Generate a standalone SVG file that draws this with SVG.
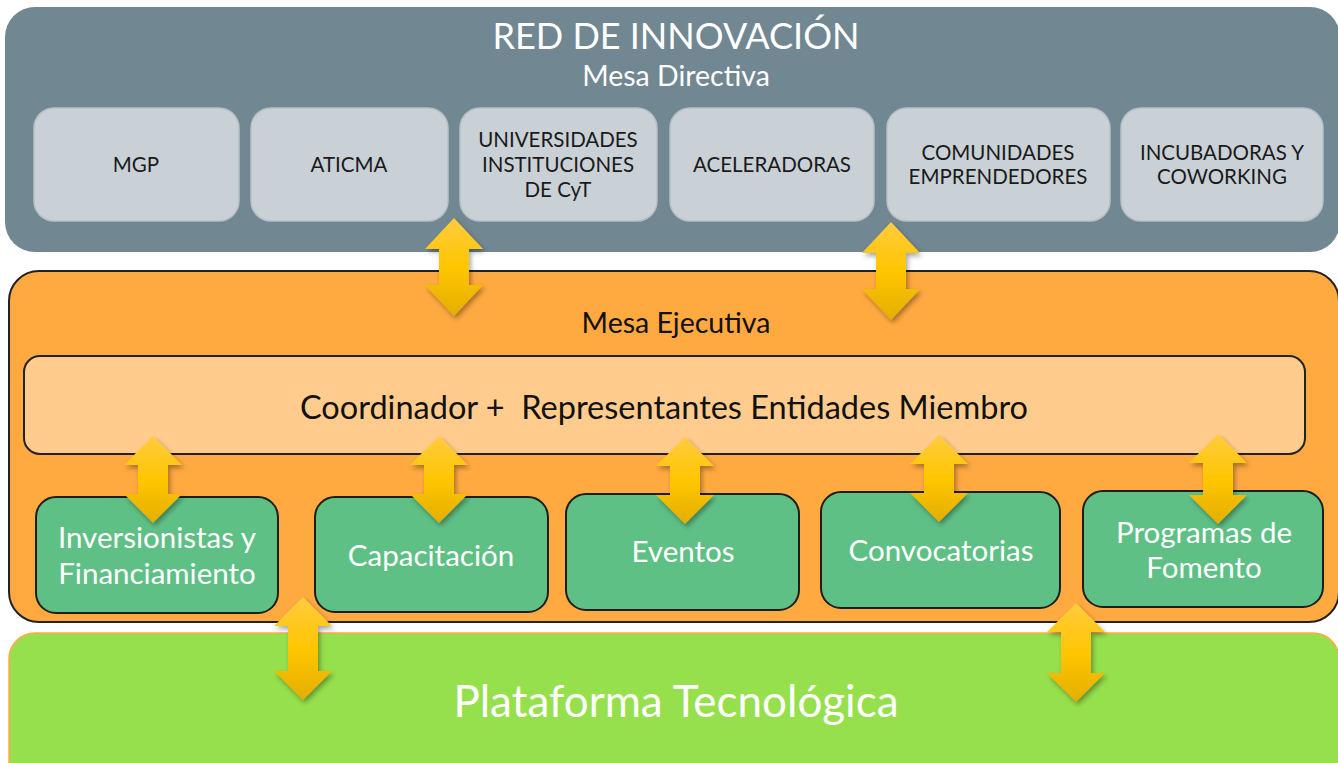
<svg xmlns="http://www.w3.org/2000/svg" width="1338" height="763" viewBox="0 0 1338 763">
<defs>
<style>
.t{font-family:Lato,"Open Sans","Liberation Sans",sans-serif;text-anchor:middle}
.top{fill:#C9D1D7;stroke:#B7C0C6;stroke-width:1.5}
.tt{font-size:20.5px;fill:#1a1a1a}
.grn{fill:#5FC086;stroke:#1e1e1e;stroke-width:2}
.gt{font-size:29.5px;fill:#ffffff}
.arr{fill:url(#ag);filter:url(#sh)}
</style>
<linearGradient id="ag" x1="0" y1="0" x2="0" y2="1">
<stop offset="0" stop-color="#FFCB3F"/>
<stop offset="0.5" stop-color="#FFC600"/>
<stop offset="1" stop-color="#E3AE00"/>
</linearGradient>
<filter id="sh" x="-30%" y="-20%" width="160%" height="140%">
<feDropShadow dx="2" dy="3" stdDeviation="2.5" flood-color="#000" flood-opacity="0.35"/>
</filter>
</defs>
<rect x="0" y="0" width="1338" height="763" fill="#ffffff"/>

<g id="red-innovacion">
<rect x="5" y="7" width="1335" height="245" rx="30" fill="#718792"/>
<text class="t" x="676" y="49" font-size="36" fill="#ffffff">RED DE INNOVACIÓN</text>
<text class="t" x="676" y="86" font-size="28.5" fill="#ffffff">Mesa Directiva</text>
</g>
<g id="mgp"><rect class="top" x="34" y="108" width="205" height="113" rx="20"/><text class="t tt" x="136" y="172">MGP</text></g>
<g id="aticma"><rect class="top" x="251" y="108" width="197" height="113" rx="20"/><text class="t tt" x="349" y="172">ATICMA</text></g>
<g id="universidades"><rect class="top" x="460" y="108" width="197" height="113" rx="20"/><text class="t tt" x="558" y="147">UNIVERSIDADES</text><text class="t tt" x="558" y="172">INSTITUCIONES</text><text class="t tt" x="558" y="197">DE CyT</text></g>
<g id="aceleradoras"><rect class="top" x="670" y="108" width="204" height="113" rx="20"/><text class="t tt" x="772" y="172">ACELERADORAS</text></g>
<g id="comunidades"><rect class="top" x="887" y="108" width="223" height="113" rx="20"/><text class="t tt" x="998" y="160">COMUNIDADES</text><text class="t tt" x="998" y="184">EMPRENDEDORES</text></g>
<g id="incubadoras"><rect class="top" x="1121" y="108" width="202" height="113" rx="20"/><text class="t tt" x="1222" y="160">INCUBADORAS Y</text><text class="t tt" x="1222" y="184">COWORKING</text></g>

<g id="mesa-ejecutiva">
<rect x="9" y="271" width="1330" height="351" rx="30" fill="#FFA941" stroke="#222" stroke-width="2"/>
<text class="t" x="676" y="333" font-size="28.5" fill="#111">Mesa Ejecutiva</text>
</g>
<g id="coordinador">
<rect x="24" y="356" width="1281" height="98" rx="16" fill="#FFCC8D" stroke="#222" stroke-width="2"/>
<text class="t" x="664" y="419" font-size="32.5" fill="#111" style="white-space:pre">Coordinador +  Representantes Entidades Miembro</text>
</g>
<g id="inversionistas"><rect class="grn" x="36" y="497" width="242" height="116" rx="20"/><text class="t gt" x="157" y="548">Inversionistas y</text><text class="t gt" x="157" y="584">Financiamiento</text></g>
<g id="capacitacion"><rect class="grn" x="315" y="497" width="233" height="115" rx="20"/><text class="t gt" x="431" y="566" font-size="30.5">Capacitación</text></g>
<g id="eventos"><rect class="grn" x="566" y="494" width="233" height="116" rx="20"/><text class="t gt" x="683" y="562" font-size="30.5">Eventos</text></g>
<g id="convocatorias"><rect class="grn" x="821" y="492" width="239" height="116" rx="20"/><text class="t gt" x="941" y="561" font-size="30">Convocatorias</text></g>
<g id="programas"><rect class="grn" x="1083" y="491" width="240" height="116" rx="20"/><text class="t gt" x="1204" y="543">Programas de</text><text class="t gt" x="1204" y="578">Fomento</text></g>

<g id="plataforma">
<rect x="9" y="633" width="1330" height="160" rx="26" fill="#97E04D" stroke="#FFA941" stroke-width="1.5"/>
<text class="t" x="676" y="717" font-size="44" fill="#ffffff">Plataforma Tecnológica</text>
</g>

<g id="connectors">
<path class="arr" d="M454,218 L483,249 L469,249 L469,285 L483,285 L454,316 L425,285 L439,285 L439,249 L425,249 Z"/>
<path class="arr" d="M891,222 L920,253 L906,253 L906,289 L920,289 L891,320 L862,289 L876,289 L876,253 L862,253 Z"/>
<path class="arr" d="M153,436 L182,465 L168,465 L168,494 L182,494 L153,523 L124,494 L138,494 L138,465 L124,465 Z"/>
<path class="arr" d="M439,436 L468,465 L454,465 L454,494 L468,494 L439,523 L410,494 L424,494 L424,465 L410,465 Z"/>
<path class="arr" d="M685,437 L714,466 L700,466 L700,495 L714,495 L685,524 L656,495 L670,495 L670,466 L656,466 Z"/>
<path class="arr" d="M939,435 L968,464 L954,464 L954,493 L968,493 L939,522 L910,493 L924,493 L924,464 L910,464 Z"/>
<path class="arr" d="M1218,434 L1247,463 L1233,463 L1233,495 L1247,495 L1218,524 L1189,495 L1203,495 L1203,463 L1189,463 Z"/>
<path class="arr" d="M303,597 L332,626 L318,626 L318,671 L332,671 L303,700 L274,671 L288,671 L288,626 L274,626 Z"/>
<path class="arr" d="M1076,603 L1105,632 L1091,632 L1091,673 L1105,673 L1076,702 L1047,673 L1061,673 L1061,632 L1047,632 Z"/>
</g>
</svg>
